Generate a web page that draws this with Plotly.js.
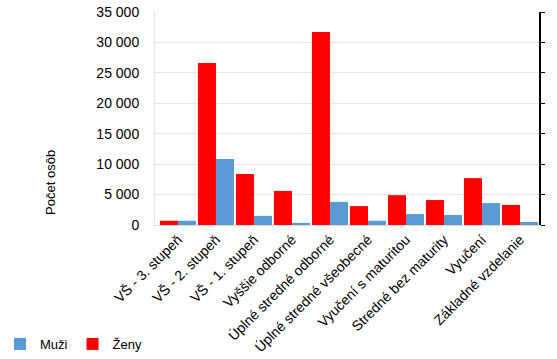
<!DOCTYPE html>
<html>
<head>
<meta charset="utf-8">
<script src="https://cdn.plot.ly/plotly-3.0.1.min.js"></script>
<style>html,body{margin:0;padding:0;background:#fff;}#chart{width:557px;height:359px;}</style>
</head>
<body>
<div id="chart"></div>
<script>
const categories = ["VŠ - 3. stupeň","VŠ - 2. stupeň","VŠ - 1. stupeň","Vyššie odborné","Úplné stredné odborné","Úplné stredné všeobecné","Vyučení s maturitou","Stredné bez maturity","Vyučení","Základné vzdelanie"];
const zeny = [700, 26600, 8400, 5600, 31700, 3100, 4900, 4100, 7700, 3300];
const muzi = [700, 10850, 1500, 350, 3800, 700, 1800, 1650, 3600, 500];
const yTicks = [0, 5000, 10000, 15000, 20000, 25000, 30000, 35000];
const yTitle = "Počet osôb";

const font = {family: "Liberation Sans, Arial, sans-serif", size: 13, color: "#000"};
const traces = [
  {type: "bar", name: "Ženy", x: categories, y: zeny, marker: {color: "#ff0000"}, legendrank: 2},
  {type: "bar", name: "Muži", x: categories, y: muzi, marker: {color: "#5b9bd5"}, legendrank: 1},
  {type: "scatter", x: [categories[0]], y: [0], yaxis: "y2", mode: "markers", marker: {opacity: 0}, showlegend: false, hoverinfo: "skip"}
];
const layout = {
  width: 557, height: 359,
  margin: {l: 155, r: 18, t: 12, b: 134},
  paper_bgcolor: "#fff", plot_bgcolor: "#fff",
  font: font,
  separators: ", ",
  barmode: "group", bargap: 0.05, bargroupgap: 0,
  xaxis: {tickangle: -45, showline: true, linecolor: "#d9d9d9", ticks: "", tickfont: {size: 14}, automargin: false},
  yaxis: {range: [0, 35000], tickvals: yTicks, tickformat: ",d", showgrid: true, gridcolor: "#e5e5e5", zeroline: false,
          showline: true, linecolor: "#e5e5e5", ticks: "", tickfont: {size: 14}, ticklabelstandoff: 12, automargin: false},
  yaxis2: {overlaying: "y", side: "right", range: [0, 35000], tickvals: yTicks, showticklabels: false, showgrid: false,
           zeroline: false, showline: true, linecolor: "#000", linewidth: 1.5, ticks: "outside", ticklen: 4, tickcolor: "#000"},
  annotations: [{text: yTitle, xref: "paper", yref: "paper", x: -0.271, y: 0.202, textangle: -90, showarrow: false,
                 font: {size: 13}, xanchor: "center", yanchor: "middle"}],
  legend: {orientation: "h", xref: "container", yref: "container", x: -0.012, y: -0.01, xanchor: "left", yanchor: "bottom",
           font: {size: 13}},
  showlegend: true
};
Plotly.newPlot("chart", traces, layout, {displayModeBar: false, staticPlot: true});
</script>
</body>
</html>
